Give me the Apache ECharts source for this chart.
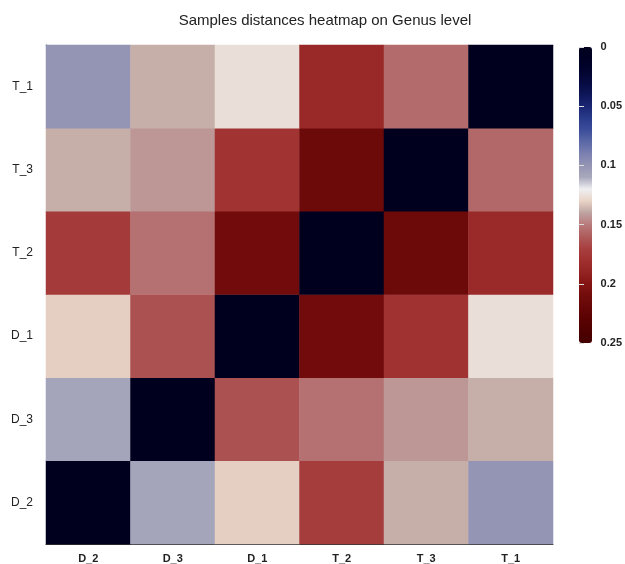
<!DOCTYPE html>
<html lang="en">
<head>
    <meta charset="UTF-8">
    <title>Samples distances heatmap</title>
    <script src="https://cdn.jsdelivr.net/npm/echarts@6/dist/echarts.min.js"></script>
    <style type="text/css">
        html, body { margin: 0; padding: 0; background: #fff; }
        #main { width: 625px; height: 564px; }
    </style>
</head>
<body>
<div id="main"></div>
<script type="text/javascript">
    // sample order on both axes (y goes bottom -> top)
    var samples = ['D_2', 'D_3', 'D_1', 'T_2', 'T_3', 'T_1'];

    // distances of each sample to D_2, D_3, D_1, T_2, T_3, T_1
    var distD2 = [0, 0.108, 0.131, 0.172, 0.138, 0.100];
    var distD3 = [0.108, 0, 0.164, 0.153, 0.143, 0.138];
    var distD1 = [0.131, 0.164, 0, 0.210, 0.179, 0.126];
    var distT2 = [0.174, 0.153, 0.210, 0, 0.215, 0.185];
    var distT3 = [0.138, 0.143, 0.178, 0.215, 0, 0.156];
    var distT1 = [0.100, 0.138, 0.126, 0.186, 0.155, 0];

    var rows = [distD2, distD3, distD1, distT2, distT3, distT1];
    var colorTicks = [0, 0.05, 0.1, 0.15, 0.2, 0.25];

    var data = [];
    for (var y = 0; y < rows.length; y++) {
        for (var x = 0; x < rows[y].length; x++) {
            data.push([x, y, rows[y][x]]);
        }
    }

    var myChart = echarts.init(document.getElementById('main'));

    var option = {
        backgroundColor: '#fff',
        animation: false,
        title: {
            text: 'Samples distances heatmap on Genus level',
            left: 320,
            textAlign: 'center',
            top: 8,
            textStyle: {
                fontFamily: 'Liberation Sans',
                fontSize: 15,
                fontWeight: 'normal',
                color: '#222'
            }
        },
        grid: [
            { left: 46, right: 72, top: 45, bottom: 19 },
            // grid that only carries the colour bar scale
            { left: 579, width: 13, top: 47, height: 296 }
        ],
        xAxis: [
            {
                type: 'category',
                data: samples,
                gridIndex: 0,
                axisLine: { lineStyle: { color: '#333' } },
                axisTick: { length: 6, lineStyle: { color: '#333' } },
                axisLabel: {
                    color: '#222', fontFamily: 'Liberation Sans',
                    fontSize: 11, fontWeight: 'bold', margin: 9
                },
                splitLine: { show: false }
            },
            {
                type: 'value', gridIndex: 1, show: false
            },
            {
                // faint dashed border along the top of the plot
                type: 'category',
                data: samples,
                gridIndex: 0,
                position: 'top',
                axisLine: { lineStyle: { color: '#bbb', type: 'dashed' } },
                axisTick: { show: false },
                axisLabel: { show: false },
                splitLine: { show: false }
            }
        ],
        yAxis: [
            {
                type: 'category',
                data: samples,
                gridIndex: 0,
                axisLine: { lineStyle: { color: '#333' } },
                axisTick: { length: 5, lineStyle: { color: '#333' } },
                axisLabel: {
                    color: '#222', fontFamily: 'Liberation Sans',
                    fontSize: 12, margin: 13
                },
                splitLine: { show: false }
            },
            {
                type: 'value',
                gridIndex: 1,
                position: 'right',
                inverse: true,
                min: 0,
                max: 0.25,
                interval: 0.05,
                z: 10,
                axisLine: { show: true, lineStyle: { color: 'rgba(0,0,0,0)' } },
                axisTick: { show: true, length: 5, lineStyle: { color: '#ddd' } },
                axisLabel: {
                    color: '#222', fontFamily: 'Liberation Sans',
                    fontSize: 11, fontWeight: 'bold', margin: 12,
                    formatter: function (v) { return colorTicks.indexOf(v) >= 0 ? String(v) : ''; }
                },
                splitLine: { show: false }
            }
        ],
        visualMap: {
            type: 'continuous',
            min: 0,
            max: 0.25,
            seriesIndex: 0,
            calculable: false,
            inverse: true,
            orient: 'vertical',
            left: 579,
            top: 47,
            padding: 0,
            itemWidth: 13,
            itemHeight: 296,
            text: null,
            showLabel: false,
            inRange: {
                color: [
                    '#00001e', '#000024', '#02042e', '#060a40', '#0e1658',
                    '#1a2672', '#283a8a', '#3c4e9a', '#5a68a6', '#7a80b0',
                    '#9494b4', '#a8a8bc', '#eeeef2', '#e8d4c6', '#bea4a2',
                    '#b87a7a', '#ae5c5c', '#a84040', '#a03030', '#942424',
                    '#841414', '#720c0c', '#660606', '#5a0202', '#4e0000',
                    '#440000'
                ]
            }
        },
        series: [
            {
                type: 'heatmap',
                xAxisIndex: 0,
                yAxisIndex: 0,
                data: data,
                itemStyle: { borderWidth: 0 },
                emphasis: { disabled: true }
            }
        ]
    };

    myChart.setOption(option);
</script>
</body>
</html>
